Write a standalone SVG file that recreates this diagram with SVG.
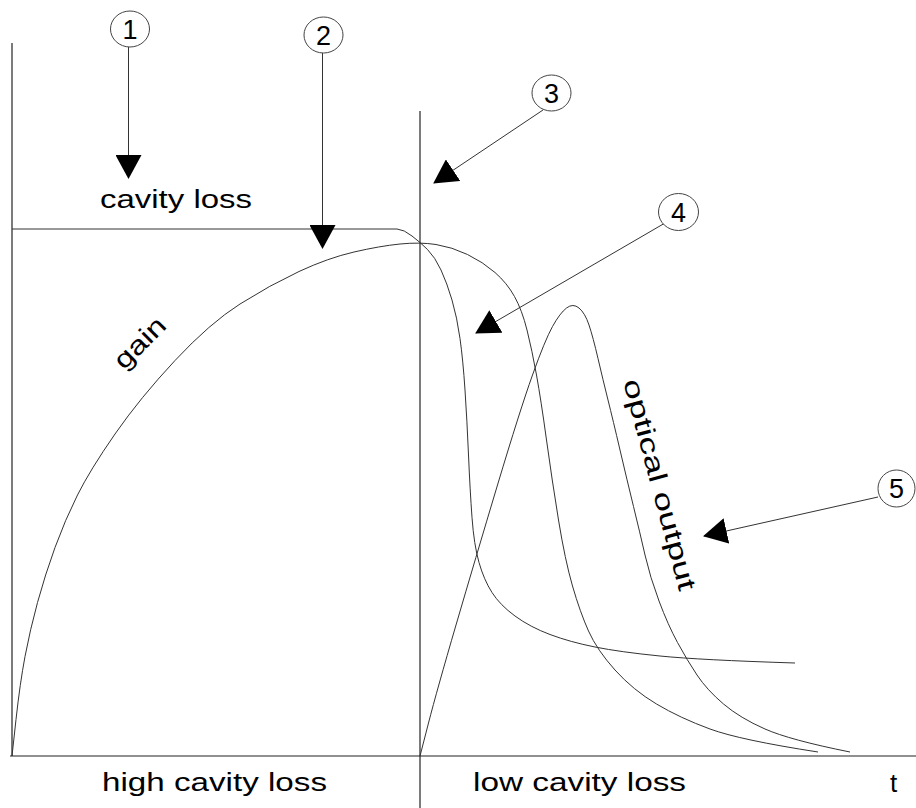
<svg xmlns="http://www.w3.org/2000/svg" width="916" height="808" viewBox="0 0 916 808">
  <style>
    .axis { fill: none; stroke: #222; stroke-width: 1.2; }
    .curve { fill: none; stroke: #333; stroke-width: 1; }
    .lead { fill: none; stroke: #333; stroke-width: 1; }
    .badge { fill: #fff; stroke: #444; stroke-width: 1; }
    .num { font-family: "Liberation Sans", Arial, sans-serif; font-size: 27px; fill: #000; text-anchor: middle; }
    .lbl { font-family: "Liberation Sans", Arial, sans-serif; font-size: 26px; fill: #000; }
  </style>
  <defs>
    <marker id="tri" markerUnits="userSpaceOnUse" viewBox="0 0 24 26" markerWidth="24" markerHeight="26" refX="23" refY="13" orient="auto">
      <path d="M0,0 L24,13 L0,26 Z" fill="#000"/>
    </marker>
  </defs>
  <rect width="916" height="808" fill="#fff"/>

  <!-- axes and the switching instant -->
  <g id="axes">
    <line class="axis" x1="12" y1="43" x2="12" y2="756"/>
    <line class="axis" x1="10" y1="756" x2="916" y2="756"/>
    <line class="axis" x1="420" y1="111" x2="420" y2="808"/>
  </g>

  <!-- cavity loss: high, then switched low -->
  <g id="cavity-loss-curve">
    <path class="curve" d="M12,229 L397,229 Q404,229.5 412,236 Q420,242 427.5,249.5 Q435,257 441,270 Q447,283 452,300 Q457,317 460,338.5 Q463,360 465,390 Q467,420 468.5,455 Q470,490 472,517.5 Q474,545 479,562.5 Q484,580 492,592.5 Q500,605 515,616 Q530,627 550,634.5 Q570,642 595,647 Q620,652 660,656 Q700,660 795,663"/>
  </g>

  <!-- gain -->
  <g id="gain-curve">
    <path class="curve" d="M12,756 L16,719.5 Q20,683 25,656.5 Q30,630 37.5,602.5 Q45,575 55,547.5 Q65,520 77.5,495 Q90,470 115,434 Q140,398 175,360.5 Q210,323 240,304 Q270,285 299,271.5 Q328,258 354,252 Q380,246 400,244 Q420,242 436,244.5 Q452,247 467.5,254.5 Q483,262 495,272.5 Q507,283 514.5,296.5 Q522,310 527,330 Q532,350 536.5,375 Q541,400 546.5,440 Q552,480 558.5,520 Q565,560 572.5,586 Q580,612 588.5,631 Q597,650 615,670 Q633,690 656.5,704 Q680,718 710,729 Q740,740 818,752"/>
  </g>

  <!-- optical output pulse -->
  <g id="optical-output-curve">
    <path class="curve" d="M420,756 L428.5,723 Q437,690 456,625 Q475,560 497.5,485 Q520,410 532.5,375 Q545,340 552.5,326.5 Q560,313 566.5,308 Q573,303 579,308 Q585,313 589,325 Q593,337 598,358.5 Q603,380 608,400 Q613,420 620,450 Q627,480 633.5,506.5 Q640,533 645,555 Q650,577 659,601 Q668,625 677.5,642.5 Q687,660 697,675 Q707,690 723.5,704 Q740,718 765,729 Q790,740 850,752"/>
  </g>

  <!-- labels -->
  <g id="labels">
    <text class="lbl" x="100" y="208" textLength="152" lengthAdjust="spacingAndGlyphs">cavity loss</text>
    <text class="lbl" transform="translate(141,344) rotate(-45)" x="0" y="7" text-anchor="middle" textLength="62" lengthAdjust="spacingAndGlyphs">gain</text>
    <text class="lbl" transform="translate(658,485) rotate(75)" x="0" y="7" text-anchor="middle" textLength="218" lengthAdjust="spacingAndGlyphs">optical output</text>
    <text class="lbl" x="102" y="791" textLength="225" lengthAdjust="spacingAndGlyphs">high cavity loss</text>
    <text class="lbl" x="473" y="791" textLength="213" lengthAdjust="spacingAndGlyphs">low cavity loss</text>
    <text class="lbl" x="890" y="792">t</text>
  </g>

  <!-- numbered callouts -->
  <g id="connectors">
    <line class="lead" x1="128.5" y1="47" x2="128.5" y2="178" marker-end="url(#tri)"/>
    <line class="lead" x1="322.5" y1="53" x2="322.5" y2="248" marker-end="url(#tri)"/>
    <line class="lead" x1="543" y1="110" x2="434" y2="183" marker-end="url(#tri)"/>
    <line class="lead" x1="665" y1="223" x2="476" y2="333" marker-end="url(#tri)"/>
    <line class="lead" x1="878" y1="497" x2="704" y2="536" marker-end="url(#tri)"/>
  </g>

  <g id="callout-1">
    <ellipse class="badge" cx="130" cy="29" rx="19.5" ry="18"/>
    <text class="num" x="130" y="38.5">1</text>
  </g>
  <g id="callout-2">
    <ellipse class="badge" cx="323.5" cy="35" rx="19.5" ry="18"/>
    <text class="num" x="323.5" y="44.5">2</text>
  </g>
  <g id="callout-3">
    <ellipse class="badge" cx="551.5" cy="93" rx="19.5" ry="18"/>
    <text class="num" x="551.5" y="102.5">3</text>
  </g>
  <g id="callout-4">
    <ellipse class="badge" cx="678.5" cy="212" rx="20" ry="18.5"/>
    <text class="num" x="678.5" y="221.5">4</text>
  </g>
  <g id="callout-5">
    <ellipse class="badge" cx="896.5" cy="488.5" rx="18.5" ry="18.5"/>
    <text class="num" x="896.5" y="498">5</text>
  </g>
</svg>
